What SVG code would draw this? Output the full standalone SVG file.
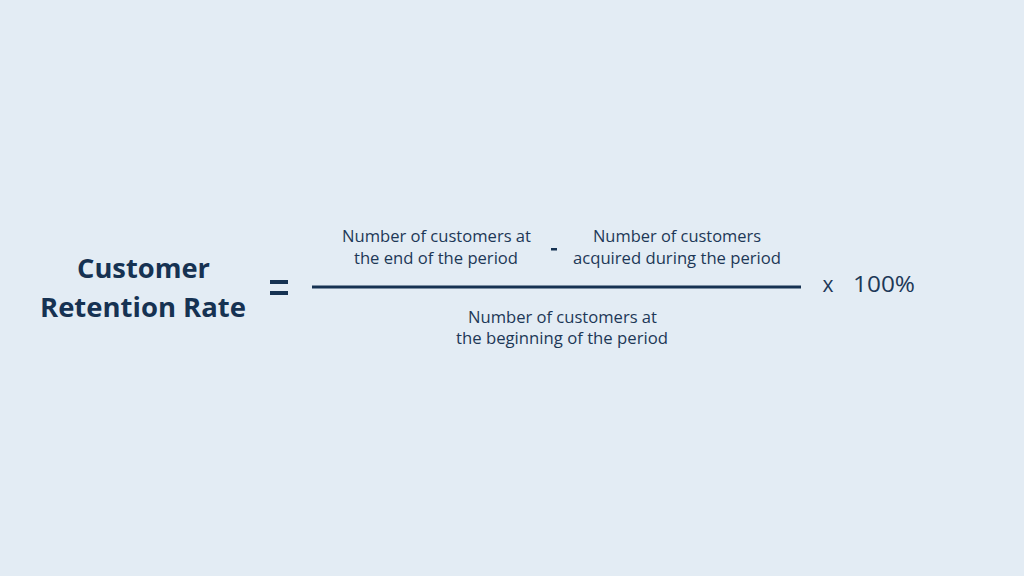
<svg xmlns="http://www.w3.org/2000/svg" width="1024" height="576" viewBox="0 0 1024 576">
<style>
.t{font-family:"Open Sans","Liberation Sans",sans-serif;fill:#1d3857;text-anchor:middle}
.s{font-size:16px}
.b{font-weight:bold;font-size:26px;fill:#163252}
</style>
<rect width="1024" height="576" fill="#e3ecf4"/>
<g id="title">
<text class="t b" x="143.5" y="278" textLength="133" lengthAdjust="spacingAndGlyphs">Customer</text>
<text class="t b" x="143" y="317" textLength="206" lengthAdjust="spacingAndGlyphs">Retention Rate</text>
</g>
<g id="equals">
<rect x="270" y="280" width="18" height="4" fill="#163252"/>
<rect x="270" y="291" width="18" height="4" fill="#163252"/>
</g>
<g id="connectors">
<line x1="312" y1="287" x2="801" y2="287" stroke="#163252" stroke-width="3"/>
</g>
<g id="numerator-left">
<text class="t s" x="436.5" y="242" textLength="189" lengthAdjust="spacingAndGlyphs">Number of customers at</text>
<text class="t s" x="436" y="264" textLength="164" lengthAdjust="spacingAndGlyphs">the end of the period</text>
</g>
<g id="minus">
<rect x="551" y="248" width="6" height="2.5" fill="#163252"/>
</g>
<g id="numerator-right">
<text class="t s" x="677" y="242" textLength="168" lengthAdjust="spacingAndGlyphs">Number of customers</text>
<text class="t s" x="677" y="264" textLength="208" lengthAdjust="spacingAndGlyphs">acquired during the period</text>
</g>
<g id="denominator">
<text class="t s" x="562.5" y="323" textLength="189" lengthAdjust="spacingAndGlyphs">Number of customers at</text>
<text class="t s" x="562" y="344" textLength="212" lengthAdjust="spacingAndGlyphs">the beginning of the period</text>
</g>
<g id="multiplier">
<text class="t" x="828" y="292" style="font-size:21px">x</text>
<text class="t" x="884" y="292" style="font-size:21px" textLength="62" lengthAdjust="spacingAndGlyphs">100%</text>
</g>
</svg>
